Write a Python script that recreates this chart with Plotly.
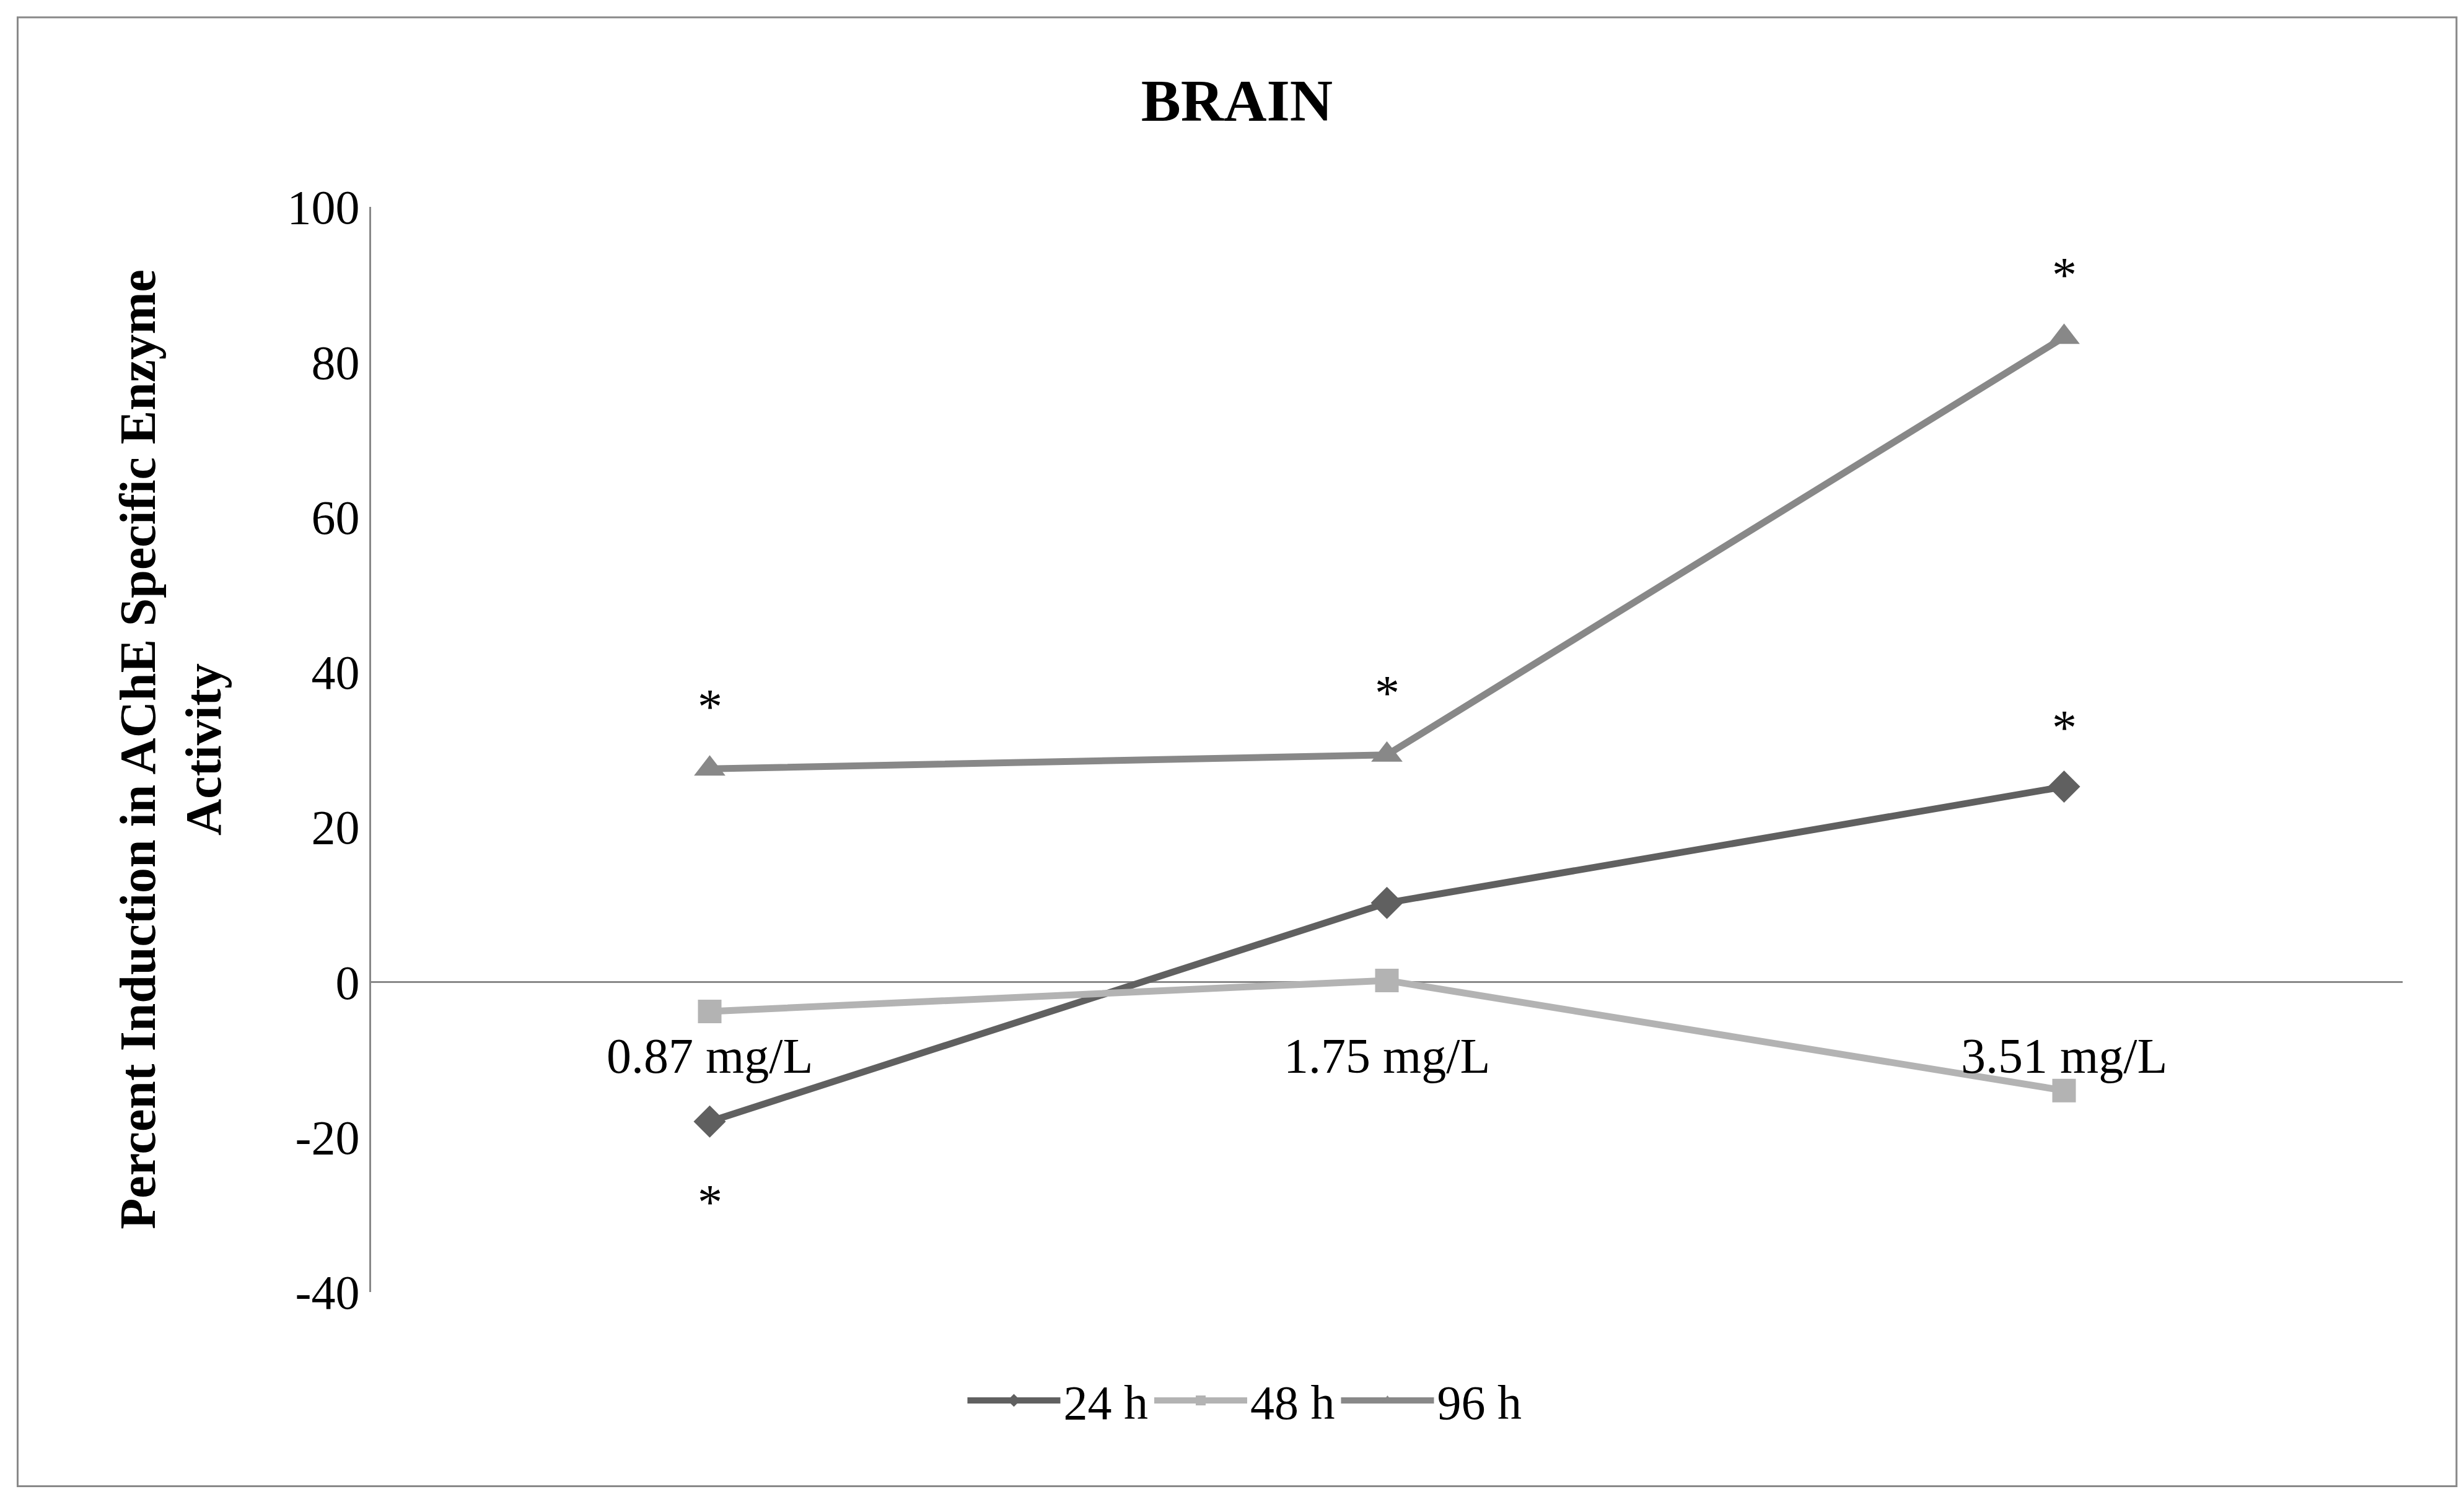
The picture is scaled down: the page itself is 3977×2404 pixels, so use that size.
import plotly.graph_objects as go

categories = ["0.87 mg/L", "1.75 mg/L", "3.51 mg/L"]
h24 = [-18, 10.2, 25.2]
h48 = [-3.8, 0.2, -14]
h96 = [27.5, 29.3, 83.2]
star24 = [True, False, True]
star96 = [True, True, True]
ytick_vals = [-40, -20, 0, 20, 40, 60, 80, 100]
ytick_text = ["-40", "-20", "0", "20", "40", "60", "80", "100"]

font = "Liberation Serif"
fig = go.Figure()
xs = [0, 1, 2]
fig.add_trace(go.Scatter(x=xs, y=h24, name="24 h", mode="lines+markers",
    line=dict(color="#606060", width=11), marker=dict(symbol="diamond", size=40, color="#606060")))
fig.add_trace(go.Scatter(x=xs, y=h48, name="48 h", mode="lines+markers",
    line=dict(color="#b3b3b3", width=11), marker=dict(symbol="square", size=38, color="#b3b3b3")))
fig.add_trace(go.Scatter(x=xs, y=h96, name="96 h", mode="lines+markers",
    line=dict(color="#888888", width=11), marker=dict(symbol="triangle-up", size=44, color="#888888")))

ann = []
for i, c in enumerate(categories):
    ann.append(dict(x=i, y=0, text=c, showarrow=False, yshift=-120, font=dict(size=80, family=font, color="black")))
for i, (v, s) in enumerate(zip(h24, star24)):
    if s:
        ann.append(dict(x=i, y=v, text="*", showarrow=False, yshift=(-130 if v < 0 else 95), font=dict(size=80, family=font, color="black")))
for i, (v, s) in enumerate(zip(h96, star96)):
    if s:
        ann.append(dict(x=i, y=v, text="*", showarrow=False, yshift=100, font=dict(size=80, family=font, color="black")))

fig.update_layout(
    width=3977, height=2404,
    paper_bgcolor="white", plot_bgcolor="white",
    margin=dict(l=591, r=107, t=326, b=326),
    title=dict(text="<b>BRAIN</b>", x=0.5, xanchor="center", y=0.936, yanchor="middle",
               font=dict(size=96, family=font, color="black")),
    font=dict(family=font, color="black"),
    xaxis=dict(range=[-0.5, 2.5], showticklabels=False, showgrid=False, zeroline=False, showline=False),
    yaxis=dict(range=[-40, 100], tickvals=ytick_vals, ticktext=ytick_text, showgrid=False, showline=True,
               linecolor="#888888", linewidth=3,
               zeroline=True, zerolinecolor="#888888", zerolinewidth=3,
               tickfont=dict(size=78, family=font, color="black"), ticks="",
               title=dict(text="<b>Percent Induction in AChE Specific Enzyme<br>Activity</b>",
                          font=dict(size=82, family=font, color="black"), standoff=80)),
    legend=dict(orientation="h", x=0.43, xanchor="center", y=-0.1, yanchor="middle",
                font=dict(size=78, family=font, color="black"), itemwidth=150),
    annotations=ann,
    shapes=[dict(type="rect", xref="paper", yref="paper", x0=-0.174, x1=1.0265, y0=-0.179, y1=1.1747,
                 line=dict(color="#888888", width=3))],
)
fig.write_html("out.html")
